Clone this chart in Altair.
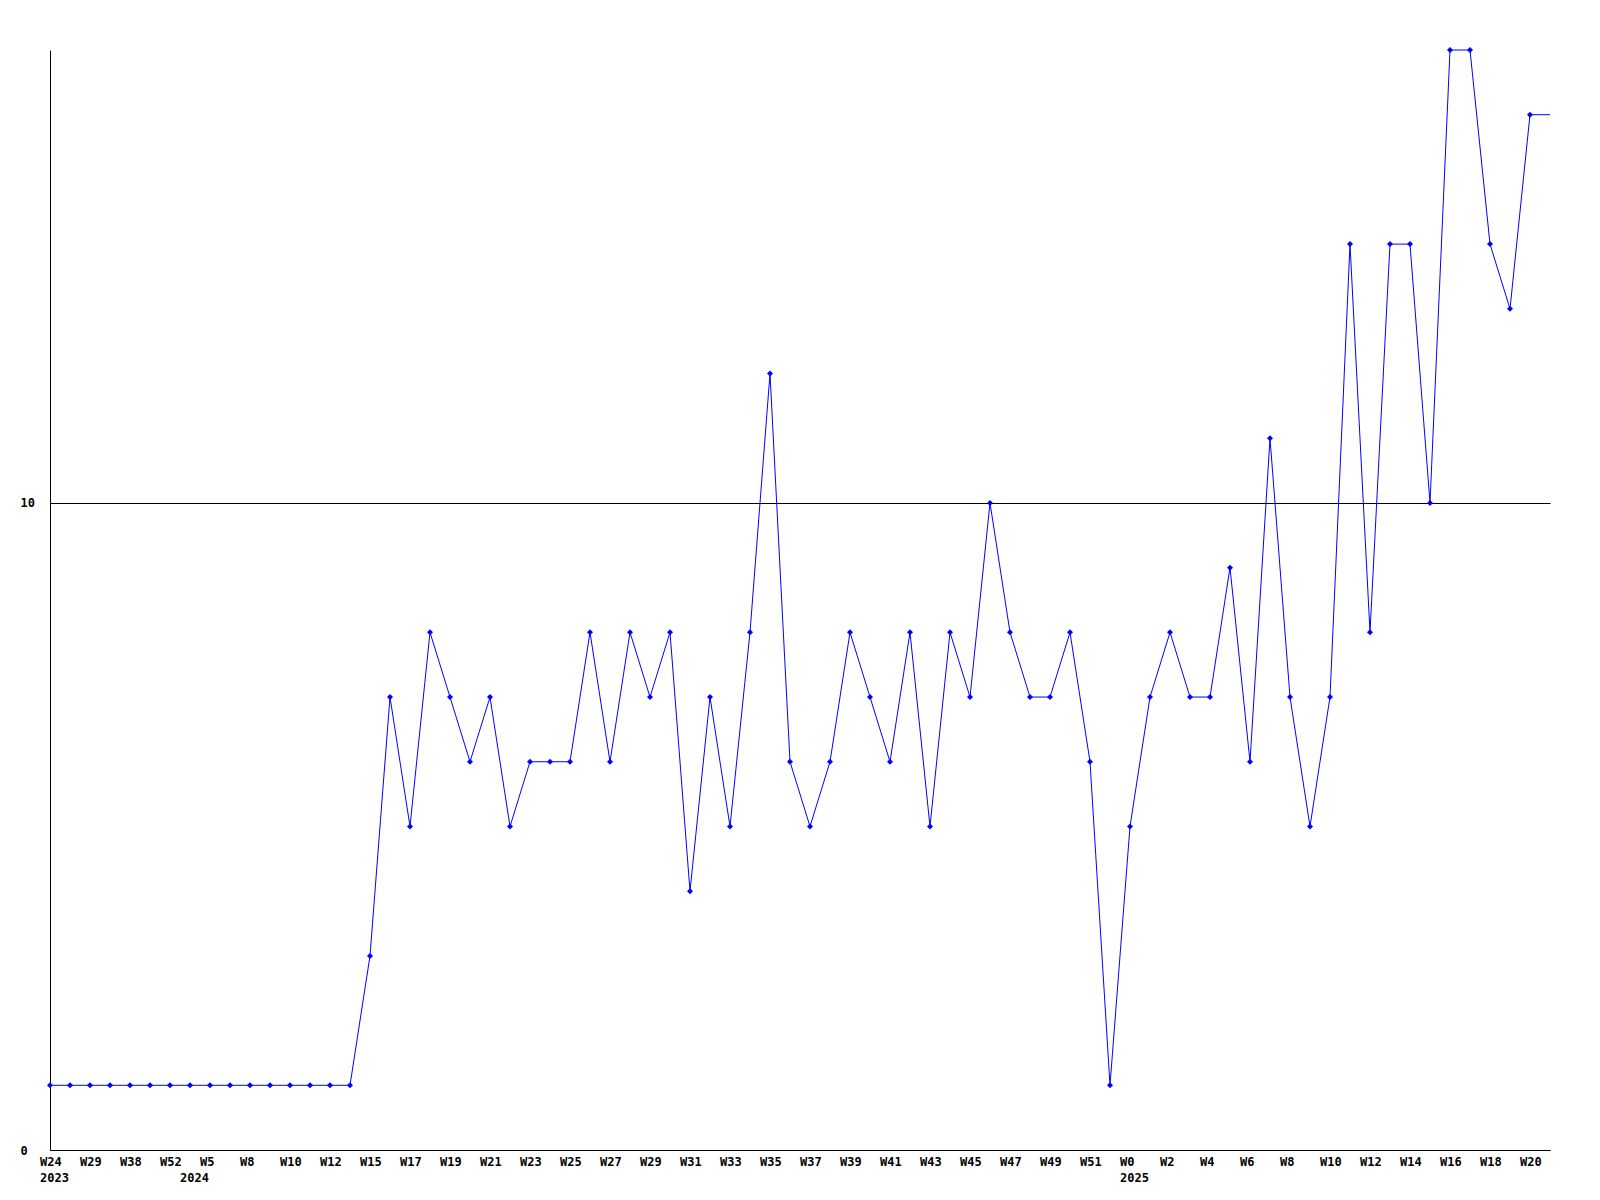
import altair as alt
import pandas as pd

# Category keys (year-week), in plotting order
weeks = [
    "2023-W24", "2023-W26", "2023-W29", "2023-W33", "2023-W38", "2023-W45", "2023-W52",
    "2024-W1", "2024-W5", "2024-W7", "2024-W8", "2024-W9", "2024-W10", "2024-W11",
    "2024-W12", "2024-W14", "2024-W15", "2024-W16", "2024-W17", "2024-W18", "2024-W19",
    "2024-W20", "2024-W21", "2024-W22", "2024-W23", "2024-W24", "2024-W25", "2024-W26",
    "2024-W27", "2024-W28", "2024-W29", "2024-W30", "2024-W31", "2024-W32", "2024-W33",
    "2024-W34", "2024-W35", "2024-W36", "2024-W37", "2024-W38", "2024-W39", "2024-W40",
    "2024-W41", "2024-W42", "2024-W43", "2024-W44", "2024-W45", "2024-W46", "2024-W47",
    "2024-W48", "2024-W49", "2024-W50", "2024-W51", "2024-W52",
    "2025-W0", "2025-W1", "2025-W2", "2025-W3", "2025-W4", "2025-W5", "2025-W6",
    "2025-W7", "2025-W8", "2025-W9", "2025-W10", "2025-W11", "2025-W12", "2025-W13",
    "2025-W14", "2025-W15", "2025-W16", "2025-W17", "2025-W18", "2025-W19", "2025-W20",
    "2025-W21",
]

values = [
    1, 1, 1, 1, 1, 1, 1, 1, 1, 1, 1, 1, 1, 1, 1, 1,
    3, 7, 5, 8, 7, 6, 7, 5, 6, 6, 6, 8, 6, 8, 7, 8,
    4, 7, 5, 8, 12, 6, 5, 6, 8, 7, 6, 8, 5, 8, 7, 10,
    8, 7, 7, 8, 6, 1, 5, 7, 8, 7, 7, 9, 6, 11, 7, 5,
    7, 14, 8, 14, 14, 10, 17, 17, 14, 13, 16, 16,
]

# markers drawn for all but the trailing (edge) point
marked = [True] * (len(weeks) - 1) + [False]

# week labels shown on every other point
label_weeks = weeks[0:75:2]

year_keys = ["2023-W24", "2024-W1", "2025-W0"]
year_labels = ["2023", "2024", "2025"]

df = pd.DataFrame({"week": weeks, "value": values, "marked": marked})
wl_df = pd.DataFrame({"week": label_weeks, "label": [w.split("-")[1] for w in label_weeks]})
years_df = pd.DataFrame({"week": year_keys, "year": year_labels})

FONT = "DejaVu Sans Mono"
FSIZE = 12

x_enc = alt.X(
    "week:O",
    sort=weeks,
    scale=alt.Scale(type="point", domain=weeks, padding=0),
    axis=alt.Axis(
        title=None,
        labels=False,
        ticks=False,
        grid=False,
        domainColor="black",
        domainWidth=1,
    ),
)

y_enc = alt.Y(
    "value:Q",
    scale=alt.Scale(domain=[0, 17], nice=False, zero=True),
    axis=alt.Axis(
        title=None,
        values=[0, 10],
        format="d",
        grid=True,
        gridColor="black",
        gridOpacity=1,
        gridWidth=1,
        ticks=False,
        tickSize=0,
        labelAlign="left",
        labelPadding=30,
        labelFont=FONT,
        labelFontWeight="bold",
        labelFontSize=FSIZE,
        labelColor="black",
        domainColor="black",
        domainWidth=1,
    ),
)

base = alt.Chart(df)

line = base.mark_line(color="#0000ff", strokeWidth=1).encode(x=x_enc, y=y_enc)

points = (
    base.transform_filter("datum.marked")
    .mark_point(shape="diamond", filled=True, color="#0000ff", size=36, opacity=1)
    .encode(x=alt.X("week:O", sort=weeks), y="value:Q")
)

text_style = dict(
    align="left",
    baseline="middle",
    dx=-10,
    font=FONT,
    fontWeight="bold",
    fontSize=FSIZE,
    color="black",
)

week_text = (
    alt.Chart(wl_df)
    .mark_text(**text_style)
    .encode(x=alt.X("week:O", sort=weeks), y=alt.value(1111.5), text="label:N")
)

years = (
    alt.Chart(years_df)
    .mark_text(**text_style)
    .encode(x=alt.X("week:O", sort=weeks), y=alt.value(1127.5), text="year:N")
)

chart = (
    alt.layer(line, points, week_text, years)
    .properties(
        width=1500,
        height=1100,
        background="white",
        autosize=alt.AutoSizeParams(type="none"),
        padding={"left": 42, "top": 42, "right": 42, "bottom": 42},
    )
    .configure_view(strokeWidth=0, stroke="transparent")
)

chart.save("out.html", embed_options={"renderer": "svg", "actions": False})
